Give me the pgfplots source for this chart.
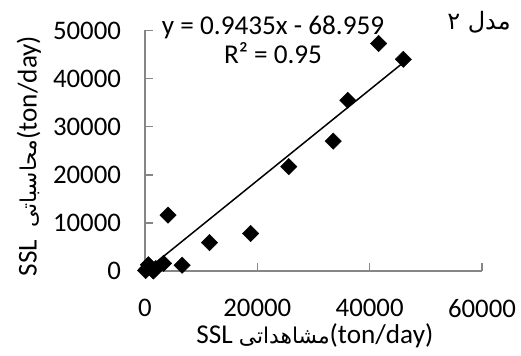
\documentclass[border=0pt]{standalone}
\usepackage{fontspec}
\setmainfont{Carlito}
\newfontfamily\arabicfont[Script=Arabic, Scale=0.8]{DejaVu Sans}
\TeXXeTstate=1
\usepackage{pgfplots}
\pgfplotsset{compat=1.18}
\definecolor{axgray}{HTML}{868686}
\begin{document}
\begin{tikzpicture}
\useasboundingbox (-72.5pt,-42.5pt) rectangle (188pt,135.5pt);
\begin{axis}[
  scale only axis, width=168.5pt, height=120.25pt,
  xmin=0, xmax=60000, ymin=0, ymax=50000,
  axis x line*=bottom, axis y line*=left,
  xtick={0,20000,40000,60000}, ytick={0,10000,20000,30000,40000,50000},
  tick align=inside, major tick length=3.8pt,
  axis line style={axgray, line width=0.75pt},
  tick style={axgray, line width=0.75pt},
  scaled ticks=false,
  /pgf/number format/1000 sep={},
  /pgf/number format/assume math mode=true,
  tick label style={font=\fontsize{13.4}{15}\selectfont, text=black},
  yticklabel style={xshift=-8.5pt},
  xticklabel style={yshift=-10.5pt},
  label style={font=\fontsize{13.6}{15}\selectfont},
  clip=false,
  xlabel={SSL {\arabicfont\beginR مشاهداتی\endR}(ton/day)},
  ylabel={SSL\ \ {\arabicfont\beginR محاسباتی\endR}(ton/day)},
  xlabel style={at={(axis description cs:0.504,-0.301)}, anchor=base},
  ylabel style={at={(axis description cs:-0.3215,0.478)}, anchor=base},
]
\addplot[only marks, mark=square*, mark size=2.9pt,
  mark options={rotate=45, fill=black, draw=black, line width=0.2pt}]
  coordinates {
  (41600,47300) (46000,44000) (36100,35500) (33500,27000) (25600,21700)
  (18800,7800) (11500,5900) (4100,11600) (6600,1200)
  (100,100) (600,1300) (1500,0) (1900,500) (3300,1600) (300,400)
  };
\addplot[black, line width=0.75pt] coordinates {(0,-69) (46000,43332)};
\node[align=center, anchor=north, inner sep=0pt, font=\fontsize{13.6}{14.5}\selectfont]
  at (axis cs:22800,53015) {y = 0.9435x - 68.959\\R² = 0.95};
\node[anchor=base, inner sep=0pt, font=\arabicfont\fontsize{15}{17}\selectfont]
  at (axis cs:59466,50104) {\beginR مدل ۲\endR};
\end{axis}
\end{tikzpicture}
\end{document}
